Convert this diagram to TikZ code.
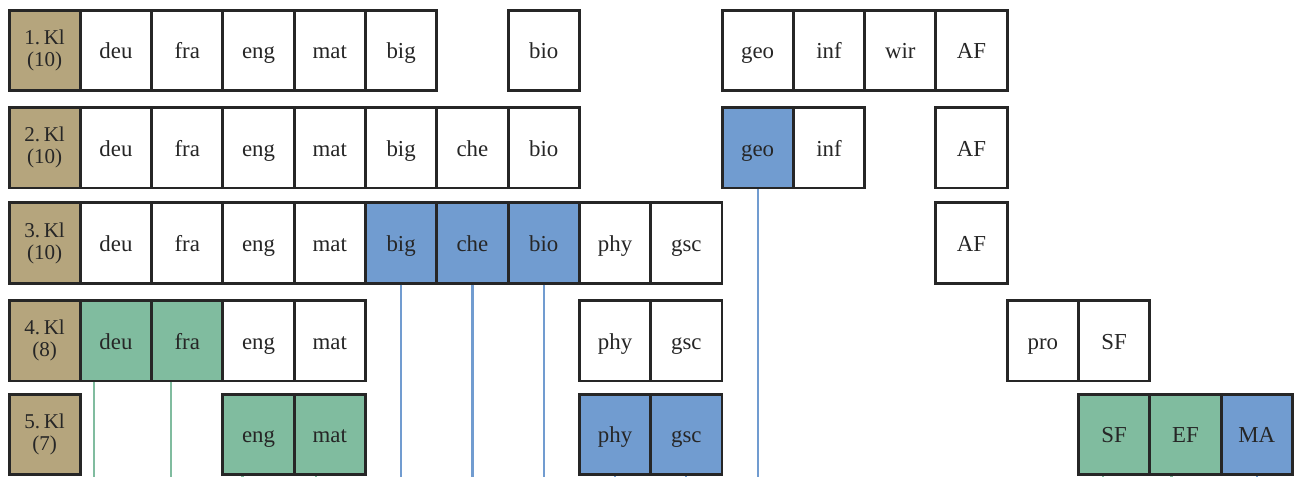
\documentclass[tikz,border=0pt]{standalone}
\usepackage{fontspec}
\setmainfont{Liberation Serif}
\usepackage{tikz}
\usetikzlibrary{positioning}
\definecolor{klasse}{HTML}{B5A57D}
\definecolor{gruen}{HTML}{80BC9F}
\definecolor{blau}{HTML}{719CD0}

\tikzset{
  zelle/.style={draw=black!85, line width=1.7pt, minimum width=1.426cm, minimum height=1.61cm,
    inner sep=0pt, font=\fontsize{13}{13}\selectfont, text=black!85},
  kl/.style={zelle, fill=klasse, align=center, font=\fontsize{12}{12.5}\selectfont},
  fach/.style={zelle, text height=2.5ex, text depth=0.4ex},
  wh/.style={fach, fill=white},
  gr/.style={fach, fill=gruen},
  bl/.style={fach, fill=blau},
  gline/.style={gruen, line width=1.2pt},
  bline/.style={blau, line width=1.2pt},
}

\begin{document}
\begin{tikzpicture}[x=0.02cm, y=-0.02cm]
\useasboundingbox (0,0) rectangle (1298,477);
\coordinate (bottom) at (0,477);
% Klassen
\foreach \r/\y/\n in {1/50.25/10, 2/147.75/10, 3/243/10, 4/340.75/8, 5/434.25/7}
  \node[kl] (k\r) at (44.65,\y) {\r.\,Kl\\(\n)};
% Faecher
\foreach \r/\c/\f/\s in {1/1/deu/wh, 1/2/fra/wh, 1/3/eng/wh, 1/4/mat/wh, 1/5/big/wh, 1/7/bio/wh,
    1/10/geo/wh, 1/11/inf/wh, 1/12/wir/wh, 1/13/AF/wh,
    2/1/deu/wh, 2/2/fra/wh, 2/3/eng/wh, 2/4/mat/wh, 2/5/big/wh, 2/6/che/wh, 2/7/bio/wh,
    2/10/geo/bl, 2/11/inf/wh, 2/13/AF/wh,
    3/1/deu/wh, 3/2/fra/wh, 3/3/eng/wh, 3/4/mat/wh, 3/5/big/bl, 3/6/che/bl, 3/7/bio/bl,
    3/8/phy/wh, 3/9/gsc/wh, 3/13/AF/wh,
    4/1/deu/gr, 4/2/fra/gr, 4/3/eng/wh, 4/4/mat/wh, 4/8/phy/wh, 4/9/gsc/wh,
    4/14/pro/wh, 4/15/SF/wh,
    5/3/eng/gr, 5/4/mat/gr, 5/8/phy/bl, 5/9/gsc/bl, 5/15/SF/gr, 5/16/EF/gr, 5/17/MA/bl}
  \path (k\r) ++(71.3*\c,0) node[\s] (r\r\f) {\f};
% Linien nach unten (gruen leicht nach links versetzt)
\foreach \n/\s/\d in {r2geo/bline/0, r3big/bline/0, r3che/bline/0, r3bio/bline/0,
    r4deu/gline/-22, r4fra/gline/-16, r5eng/gline/-16, r5mat/gline/-14,
    r5phy/bline/0, r5gsc/bline/0, r5SF/gline/-11, r5EF/gline/-14, r5MA/bline/0}
  \draw[\s] ([xshift=\d*0.02cm]\n.south) -- ([xshift=\d*0.02cm]\n.south |- bottom);
\end{tikzpicture}
\end{document}
